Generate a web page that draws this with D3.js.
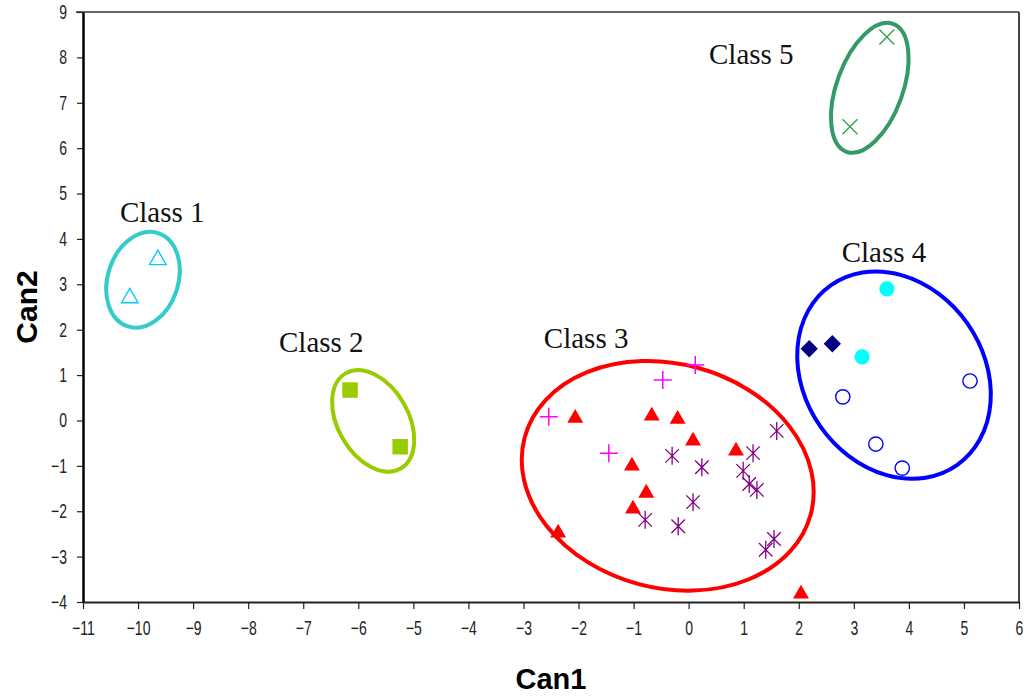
<!DOCTYPE html>
<html>
<head>
<meta charset="utf-8">
<script src="https://cdn.jsdelivr.net/npm/d3@7"></script>
<style>
  body { margin: 0; background: #fff; }
  svg { display: block; }
</style>
</head>
<body>
<svg id="chart" width="1024" height="696"></svg>
<script>
// ---- data (Can1, Can2) ----
const xTicks = d3.range(-11, 7);
const yTicks = d3.range(-4, 10);

const class1Tri = [[-10.15, 2.70], [-9.64, 3.54]];
const class2Sq = [[-6.15, 0.67], [-5.24, -0.58]];
const class3Tri = [[-2.06, 0.05], [-0.67, 0.10], [-0.20, 0.03], [0.08, -0.45], [0.86, -0.67],
  [-1.03, -1.00], [-0.77, -1.60], [-1.01, -1.95], [-2.37, -2.48], [2.04, -3.82]];
const class3Plus = [[-2.54, 0.08], [-0.47, 0.89], [0.12, 1.22], [-1.45, -0.72]];
const class3Star = [[-0.30, -0.78], [0.24, -1.03], [0.08, -1.80], [-0.79, -2.19], [-0.19, -2.33],
  [1.17, -0.72], [1.60, -0.23], [0.99, -1.11], [1.10, -1.40], [1.24, -1.53], [1.55, -2.61], [1.40, -2.85]];
const class4Dot = [[3.60, 2.90], [3.15, 1.40]];
const class4Dia = [[2.19, 1.58], [2.61, 1.69]];
const class4Ring = [[2.80, 0.52], [5.11, 0.87], [3.40, -0.52], [3.88, -1.05]];
const class5X = [[3.60, 8.45], [2.93, 6.47]];

// class ellipses: centre (Can1, Can2), semi-axes in Can1 / Can2 units, tilt in degrees
const classNames = ["Class 1", "Class 2", "Class 3", "Class 4", "Class 5"];
const ellCx = [-9.91, -5.73, -0.38, 3.73, 3.29];
const ellCy = [3.10, -0.01, -1.22, 1.00, 7.33];
const ellRx = [0.64, 0.64, 2.69, 1.63, 0.60];
const ellRy = [1.08, 1.21, 2.47, 2.42, 1.50];
const ellTilt = [18, -30, 15, -35, 20];
const ellColor = ["#33cccc", "#99cc00", "#ff0000", "#0000ff", "#339966"];
const labelX = [-10.33, -7.44, -2.63, 2.78, 0.37];
const labelY = [4.37, 1.51, 1.60, 3.49, 7.86];

const svg = d3.select("#chart");
const x = d3.scaleLinear().domain([-11, 6]).range([83, 1019]);
const y = d3.scaleLinear().domain([-4, 9]).range([602, 12]);

// frame (top and right)
svg.append("line").attr("x1", 76).attr("x2", x(6)).attr("y1", y(9)).attr("y2", y(9))
  .attr("stroke", "#333").attr("stroke-width", 1.5);
svg.append("line").attr("x1", x(6)).attr("x2", x(6)).attr("y1", y(9)).attr("y2", y(-4))
  .attr("stroke", "#444").attr("stroke-width", 2);

// axes
const xAxis = svg.append("g")
  .attr("transform", `translate(0,${y(-4)})`)
  .call(d3.axisBottom(x).tickValues(xTicks).tickSize(7).tickSizeOuter(0).tickPadding(12));
xAxis.select(".domain").attr("stroke", "#222").attr("stroke-width", 2);
xAxis.selectAll(".tick line").attr("stroke", "#222").attr("stroke-width", 1.2);
xAxis.selectAll(".tick text")
  .style("font-family", "'Liberation Sans', Arial, sans-serif")
  .style("font-size", "20px").attr("fill", "#222")
  .attr("transform", "scale(0.7,1)");

const yAxis = svg.append("g")
  .attr("transform", `translate(${x(-11)},0)`)
  .call(d3.axisLeft(y).tickValues(yTicks).tickSize(6).tickSizeOuter(0).tickPadding(5));
yAxis.select(".domain").attr("stroke", "#000").attr("stroke-width", 2.5);
yAxis.selectAll(".tick line").attr("stroke", "#222").attr("stroke-width", 1.2);
yAxis.selectAll(".tick text")
  .style("font-family", "'Liberation Sans', Arial, sans-serif")
  .style("font-size", "20px").attr("fill", "#222")
  .attr("x", -16 / 0.7)
  .attr("transform", "scale(0.7,1)");

// axis titles
svg.append("text").attr("x", (x(-11) + x(6)) / 2).attr("y", 689)
  .attr("text-anchor", "middle")
  .style("font-family", "'Liberation Sans', Arial, sans-serif")
  .style("font-weight", "bold").style("font-size", "29px")
  .text("Can1");
svg.append("text")
  .attr("transform", `translate(37,${(y(9) + y(-4)) / 2}) rotate(-90)`)
  .attr("text-anchor", "middle")
  .style("font-family", "'Liberation Sans', Arial, sans-serif")
  .style("font-weight", "bold").style("font-size", "30px")
  .text("Can2");

// ellipses
const unitX = x(1) - x(0), unitY = y(0) - y(1);
svg.append("g").selectAll("ellipse")
  .data(classNames)
  .join("ellipse")
  .attr("transform", (d, i) => `translate(${x(ellCx[i])},${y(ellCy[i])}) rotate(${ellTilt[i]})`)
  .attr("rx", (d, i) => ellRx[i] * unitX)
  .attr("ry", (d, i) => ellRy[i] * unitY)
  .attr("fill", "none")
  .attr("stroke", (d, i) => ellColor[i])
  .attr("stroke-width", 4);

// class labels
svg.append("g").selectAll("text")
  .data(classNames)
  .join("text")
  .attr("x", (d, i) => x(labelX[i]))
  .attr("y", (d, i) => y(labelY[i]))
  .style("font-family", "'Liberation Serif', 'Times New Roman', serif")
  .style("font-size", "29px")
  .attr("fill", "#111")
  .text(d => d);

// marker helpers
const plusPath = r => `M${-r},0H${r}M0,${-r}V${r}`;
const crossPath = r => `M${-r},${-r}L${r},${r}M${-r},${r}L${r},${-r}`;
const starPath = r => crossPath(r * 0.75) + `M0,${-r}V${r}`;

function markers(data, path, opts) {
  svg.append("g").selectAll("path")
    .data(data)
    .join("path")
    .attr("transform", d => `translate(${x(d[0])},${y(d[1])})${opts.rotate ? " rotate(45)" : ""}`)
    .attr("d", path)
    .attr("fill", opts.fill || "none")
    .attr("stroke", opts.stroke || "none")
    .attr("stroke-width", opts.sw || 0);
}

markers(class1Tri, d3.symbol(d3.symbolTriangle, 120)(), { stroke: "#00ccff", sw: 1.4, fill: "#fff" });
markers(class2Sq, d3.symbol(d3.symbolSquare, 240)(), { fill: "#99cc00" });
markers(class3Tri, d3.symbol(d3.symbolTriangle, 110)(), { fill: "#ff0000" });
markers(class3Plus, plusPath(9), { stroke: "#ff00ff", sw: 1.5 });
markers(class3Star, starPath(9), { stroke: "#800080", sw: 1.3 });
markers(class4Dot, d3.symbol(d3.symbolCircle, 180)(), { fill: "#00ffff" });
markers(class4Dia, d3.symbol(d3.symbolSquare, 150)(), { fill: "#000080", rotate: true });
markers(class4Ring, d3.symbol(d3.symbolCircle, 160)(), { stroke: "#0000ff", sw: 1.4, fill: "#fff" });
markers(class5X, crossPath(7.5), { stroke: "#33a046", sw: 1.3 });
</script>
</body>
</html>
